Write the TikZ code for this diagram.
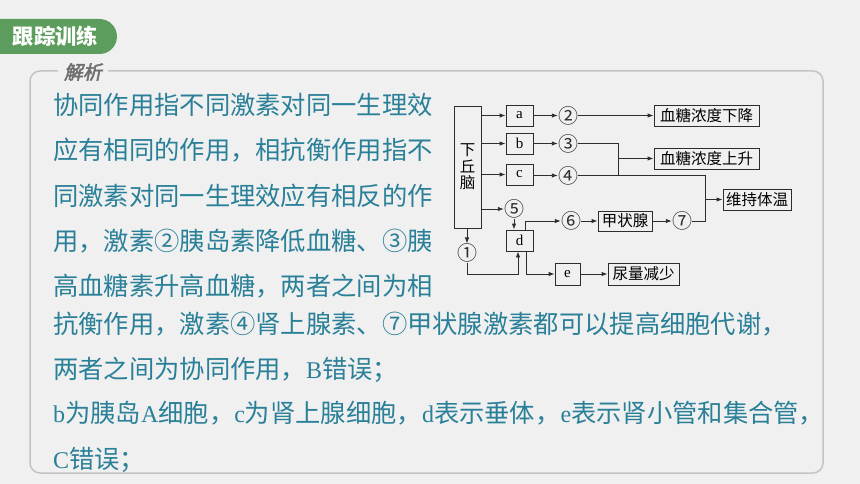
\documentclass[tikz,border=0pt]{standalone}
\usepackage{fontspec}
\setmainfont{Liberation Serif}
\newfontfamily\cjk{Noto Sans CJK SC}
\newfontfamily\cjkslant[FakeSlant=0.2,FakeBold=2.5]{Noto Sans CJK SC}
\newcommand{\lat}{\rmfamily\fontsize{24}{30}\selectfont}
\usetikzlibrary{arrows.meta,positioning}
\definecolor{pagebg}{RGB}{240,240,240}
\definecolor{tabgreen}{RGB}{92,156,92}
\definecolor{textteal}{RGB}{42,128,152}
\definecolor{framegray}{RGB}{196,196,196}
\definecolor{titlegray}{RGB}{110,110,110}
\definecolor{inkgray}{RGB}{45,45,45}
\tikzstyle{box} = [rectangle, draw=inkgray, line width=0.9pt, inner sep=0pt,
    minimum height=21pt, font=\cjk\fontsize{15.5}{16.5}\selectfont]
\tikzstyle{letter} = [box, minimum width=27pt, font=\rmfamily\fontsize{15}{15}\selectfont]
\tikzstyle{num} = [inner sep=0pt, text=inkgray, font=\cjk\fontsize{20}{20}\selectfont]
\tikzstyle{txt} = [anchor=base west, inner sep=0pt, text=textteal,
    font=\cjk\fontsize{25.3}{30}\selectfont]
\tikzstyle{line} = [draw=inkgray, line width=0.9pt, -{Latex[length=6pt,width=4.5pt]}]
\tikzstyle{joinline} = [draw=inkgray, line width=0.9pt]

\begin{document}
\begin{tikzpicture}[x=1pt, y=-1pt, node distance=48.5pt]
  % page and frame
  \fill[pagebg] (0,0) rectangle (860,484);
  \useasboundingbox (0,0) rectangle (860,484);
  \fill[tabgreen, rounded corners=17.5pt] (-30,19) rectangle (117,54);
  \node[text=white, inner sep=0pt, font=\cjk\bfseries\fontsize{21.3}{22}\selectfont] (tab) at (55.5,36.5) {跟踪训练};
  \draw[framegray, line width=1.5pt, rounded corners=10pt] (30,71) rectangle (823,473);
  \node[fill=pagebg, inner xsep=6pt, inner ysep=2pt, text=titlegray,
    font=\cjkslant\fontsize{19}{20}\selectfont] (title) at (83,72) {解析};
  % explanation text
  \node[txt] (l1) at (53,115) {协同作用指不同激素对同一生理效};
  \node[txt] (l2) at (53,160) {应有相同的作用，相抗衡作用指不};
  \node[txt] (l3) at (53,205) {同激素对同一生理效应有相反的作};
  \node[txt] (l4) at (53,250) {用，激素②胰岛素降低血糖、③胰};
  \node[txt] (l5) at (53,295) {高血糖素升高血糖，两者之间为相};
  \node[txt] (l6) at (53,333) {抗衡作用，激素④肾上腺素、⑦甲状腺激素都可以提高细胞代谢，};
  \node[txt] (l7) at (53,378) {两者之间为协同作用，{\lat B}错误；};
  \node[txt] (l8) at (53,422) {{\lat b}为胰岛{\lat A}细胞，{\lat c}为肾上腺细胞，{\lat d}表示垂体，{\lat e}表示肾小管和集合管，};
  \node[txt] (l9) at (53,468) {{\lat C}错误；};
  % Place nodes
  \node[box, minimum width=27pt, minimum height=122pt, align=center] (hyp) at (467.5,167) {下\\丘\\脑};
  \node[letter] (a) at (519.5,115.5) {a};
  \node[letter] (b) at (519.5,143.5) {b};
  \node[letter] (c) at (519.5,174.5) {c};
  \node[num, right of=a] (n2) {②};
  \node[num, right of=b] (n3) {③};
  \node[num, right of=c, yshift=-1pt] (n4) {④};
  \node[box, minimum width=105pt, right of=n2, node distance=138.5pt] (down) {血糖浓度下降};
  \node[box, minimum width=105pt] (up) at (706.5,158.5) {血糖浓度上升};
  \node[box, minimum width=68pt] (temp) at (757,199.5) {维持体温};
  \node[num] (n5) at (514,209) {⑤};
  \node[letter] (d) at (519.5,240.5) {d};
  \node[num] (n6) at (571,221) {⑥};
  \node[box, minimum width=54pt, minimum height=20pt, right of=n6, node distance=54pt] (thy) {甲状腺};
  \node[num, right of=thy, node distance=57pt] (n7) {⑦};
  \node[num] (n1) at (467,253) {①};
  \node[letter, minimum width=25pt, minimum height=22pt] (e) at (567.5,274) {e};
  \node[box, minimum width=71pt, minimum height=22pt, right of=e, node distance=76pt] (urine) {尿量减少};
  \coordinate (j1) at ([xshift=-35pt]up.west);
  \coordinate (j2) at ([xshift=-17pt]temp.west);
  \coordinate (dIn) at ([xshift=-1.5pt]d.south);
  \coordinate (dOut) at ([xshift=6.5pt]d.south);
  % Draw edges
  \path[line] (hyp.east |- a) -- (a);
  \path[line] (hyp.east |- b) -- (b);
  \path[line] (hyp.east |- c) -- (c);
  \path[line] (hyp.east |- n5) -- (n5);
  \path[line] (a) -- (n2);
  \path[line] (b) -- (n3);
  \path[line] (c) -- (n4 -| c.east) -- (n4);
  \path[line] (n2) -- (down);
  \path[joinline] (n3) -| (j1);
  \path[joinline] (n4) -| (j1);
  \path[line] (j1) -- (up);
  \path[joinline] (n4) -| (j2);
  \path[joinline] (n7) -| (j2);
  \path[line] (j2) -- (temp);
  \path[line] (n5) -- (n5 |- d.north);
  \path[line] ([xshift=5.5pt]d.north) |- (n6);
  \path[line] (n6) -- (thy);
  \path[line] (thy) -- (n7);
  \path[line] (hyp.south -| n1) -- (n1);
  \path[line] (n1) |- (dIn |- e) -- (dIn);
  \path[line] (dOut) |- (e);
  \path[line] (e) -- (urine);
\end{tikzpicture}
\end{document}
